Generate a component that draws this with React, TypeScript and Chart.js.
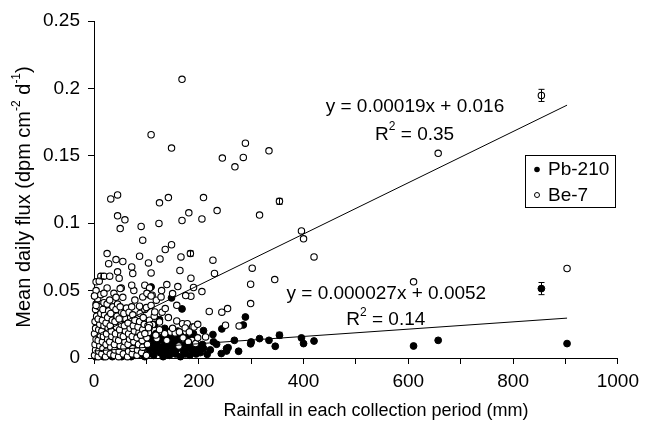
import { useEffect, useRef } from 'react';
import { Chart, registerables } from 'chart.js';
Chart.register(...registerables);

const FONT = "'Liberation Sans', Arial, sans-serif";

// Rainfall (mm), mean daily flux (dpm cm-2 d-1)
const be7Sparse: [number, number][] = [
  [168, 0.2067], [109, 0.1656], [148, 0.1557], [245, 0.1483], [269, 0.1418], [285, 0.1488], [289, 0.1594],
  [334, 0.1537], [354, 0.1162], [316, 0.106], [32, 0.118], [45, 0.121], [45, 0.1055], [59, 0.1025], [50, 0.096],
  [90, 0.0976], [93, 0.0874], [125, 0.1151], [142, 0.119], [124, 0.0998], [168, 0.102], [181, 0.1077], [209, 0.119],
  [206, 0.1032], [235, 0.1094], [396, 0.0943], [400, 0.0884], [420, 0.075], [148, 0.084], [136, 0.0805],
  [126, 0.0735], [166, 0.075], [184, 0.0775], [227, 0.0726], [230, 0.0627], [302, 0.0666], [299, 0.0547],
  [345, 0.0582], [299, 0.0404], [220, 0.0345], [244, 0.034], [255, 0.0367], [277, 0.0238], [251, 0.0243],
  [190, 0.0523], [206, 0.0493], [185, 0.0458], [175, 0.0463], [164, 0.0649], [185, 0.0592], [160, 0.053],
  [139, 0.0545], [129, 0.05], [150, 0.0478], [158, 0.0391], [136, 0.0367], [116, 0.0342], [109, 0.0631],
  [104, 0.0705], [87, 0.0755], [72, 0.0676], [74, 0.0627], [25, 0.0775], [28, 0.07], [42, 0.073], [55, 0.0716],
  [45, 0.0639], [48, 0.0592], [13, 0.0607], [19, 0.0607], [30, 0.0607], [4, 0.0565], [10, 0.057], [52, 0.052],
  [50, 0.0515], [25, 0.052], [1, 0.046], [13, 0.047], [19, 0.048], [38, 0.048], [42, 0.045], [55, 0.045],
  [76, 0.05], [97, 0.054], [106, 0.052], [72, 0.054], [4, 0.039], [101, 0.048], [109, 0.046],
  [854, 0.1948], [657, 0.1518], [610, 0.0565], [903, 0.0664],
];

const be7Mid: [number, number][] = [
  [125, 0.0267], [158, 0.0275], [169, 0.0255], [178, 0.0255], [188, 0.023], [112, 0.0248], [106, 0.0243],
  [104, 0.0225], [146, 0.0193], [155, 0.0186], [163, 0.0193], [174, 0.0223], [182, 0.0193], [191, 0.023],
  [213, 0.0156], [89, 0.0169], [97, 0.0181], [120, 0.0144], [139, 0.0131], [187, 0.0131], [194, 0.0107],
  [162, 0.0089], [100, 0.0374], [87, 0.0384], [109, 0.039], [78, 0.043], [93, 0.0453], [105, 0.047],
  [111, 0.0466], [119, 0.0429], [128, 0.0453], [198, 0.015], [115, 0.031], [130, 0.034], [142, 0.03],
  [150, 0.022], [135, 0.018], [170, 0.015], [180, 0.012], [125, 0.021], [118, 0.017], [198, 0.025],
];

const be7Dense: [number, number][] = [
  [1, 0.002], [3, 0.006], [2, 0.01], [4, 0.014], [1, 0.018], [3, 0.022], [2, 0.027], [5, 0.031], [3, 0.036],
  [4, 0.04], [1, 0.046], [4, 0.05], [8, 0.001], [9, 0.005], [11, 0.009], [8, 0.013], [12, 0.017], [9, 0.021],
  [11, 0.025], [8, 0.029], [13, 0.033], [10, 0.038], [7, 0.044], [15, 0.003], [17, 0.007], [16, 0.012],
  [18, 0.016], [15, 0.02], [19, 0.024], [16, 0.028], [20, 0.032], [17, 0.036], [19, 0.041], [22, 0.001],
  [24, 0.005], [23, 0.01], [26, 0.014], [24, 0.018], [27, 0.022], [23, 0.026], [26, 0.03], [28, 0.035],
  [25, 0.04], [31, 0.003], [32, 0.008], [30, 0.012], [34, 0.016], [33, 0.02], [31, 0.024], [35, 0.028],
  [32, 0.033], [36, 0.038], [30, 0.043], [38, 0.002], [40, 0.006], [39, 0.01], [42, 0.014], [41, 0.018],
  [43, 0.023], [40, 0.027], [44, 0.031], [42, 0.036], [45, 0.04], [47, 0.001], [48, 0.005], [50, 0.009],
  [47, 0.013], [51, 0.017], [49, 0.021], [52, 0.025], [48, 0.029], [53, 0.034], [50, 0.038], [56, 0.003],
  [57, 0.008], [59, 0.012], [56, 0.016], [60, 0.02], [58, 0.024], [61, 0.029], [57, 0.033], [62, 0.037],
  [64, 0.001], [66, 0.005], [65, 0.01], [68, 0.014], [66, 0.018], [69, 0.022], [65, 0.026], [70, 0.03],
  [67, 0.034], [73, 0.003], [74, 0.007], [76, 0.012], [73, 0.016], [77, 0.02], [75, 0.024], [78, 0.028],
  [74, 0.032], [72, 0.038], [82, 0.002], [83, 0.006], [85, 0.01], [82, 0.015], [86, 0.019], [84, 0.023],
  [87, 0.027], [88, 0.033], [91, 0.004], [93, 0.008], [92, 0.013], [95, 0.017], [93, 0.021], [96, 0.025],
  [94, 0.03], [97, 0.036], [100, 0.002], [102, 0.01], [101, 0.015], [104, 0.019], [103, 0.024], [106, 0.028],
];

const pb210Scatter: [number, number][] = [
  [24, 0.039], [109, 0.0527], [148, 0.0446], [168, 0.0364], [125, 0.0285], [289, 0.0304], [285, 0.0245],
  [244, 0.0216], [209, 0.0203], [227, 0.0174], [268, 0.0131], [300, 0.0119], [299, 0.0105], [316, 0.0144],
  [334, 0.0131], [346, 0.0087], [354, 0.0169], [396, 0.0149], [400, 0.0107], [420, 0.0126], [610, 0.0089],
  [657, 0.0131], [903, 0.0107], [854, 0.0515], [276, 0.005], [243, 0.0033], [253, 0.007], [216, 0.0027],
  [209, 0.0072], [256, 0.0077], [253, 0.0052], [234, 0.0102], [138, 0.02], [157, 0.0176], [116, 0.025],
  [110, 0.0139],
];

const pb210Dense: [number, number][] = [
  [3, 0.001], [10, 0.002], [18, 0.001], [26, 0.003], [35, 0.001], [44, 0.002], [53, 0.001], [62, 0.003],
  [71, 0.001], [80, 0.002], [89, 0.003], [97, 0.001], [40, 0.03], [60, 0.02], [70, 0.017], [80, 0.015],
  [90, 0.012], [95, 0.02], [100, 0.008], [104, 0.003], [108, 0.007], [111, 0.011], [114, 0.002], [117, 0.006],
  [120, 0.01], [123, 0.013], [126, 0.004], [129, 0.008], [132, 0.001], [135, 0.011], [138, 0.005],
  [141, 0.009], [144, 0.002], [147, 0.013], [150, 0.006], [153, 0.01], [156, 0.003], [159, 0.007],
  [162, 0.012], [165, 0.001], [168, 0.009], [171, 0.005], [174, 0.003], [177, 0.011], [180, 0.007],
  [183, 0.002], [186, 0.009], [189, 0.005], [192, 0.012], [195, 0.003], [198, 0.008], [112, 0.016],
  [118, 0.018], [128, 0.015], [137, 0.017], [146, 0.016], [155, 0.015], [165, 0.017], [175, 0.015],
  [185, 0.014], [105, 0.022], [135, 0.022], [160, 0.02], [190, 0.018], [203, 0.004], [207, 0.01],
  [222, 0.006], [228, 0.012],
];

// trend lines: [slope, intercept]
const be7Trend = [0.00019, 0.016];
const pb210Trend = [0.000027, 0.0052];
const trendXs = [0, 903];

// error bars: [x, y, halfWidth]
const be7Errors: [number, number, number][] = [[854, 0.1948, 0.0045], [354, 0.1162, 0.0022], [184, 0.0775, 0.002], [13, 0.0607, 0.002]];
const pb210Errors: [number, number, number][] = [[854, 0.0515, 0.0045], [354, 0.0169, 0.0022]];

const xTickLabels = ['0', '200', '400', '600', '800', '1000'];
const yTickLabels = ['0', '0.05', '0.1', '0.15', '0.2', '0.25'];

type Seg = { t: string; sup?: boolean };

function drawRich(ctx: CanvasRenderingContext2D, segs: Seg[], cx: number, cy: number, size: number) {
  const supSize = Math.round(size * 0.62);
  let total = 0;
  const widths = segs.map((s) => {
    ctx.font = `${s.sup ? supSize : size}px ${FONT}`;
    const w = ctx.measureText(s.t).width;
    total += w;
    return w;
  });
  let x = cx - total / 2;
  ctx.textAlign = 'left';
  ctx.textBaseline = 'middle';
  segs.forEach((s, i) => {
    ctx.font = `${s.sup ? supSize : size}px ${FONT}`;
    ctx.fillText(s.t, x, s.sup ? cy - size * 0.38 : cy);
    x += widths[i];
  });
}

const overlay = {
  id: 'overlay',
  afterDatasetsDraw(chart: any) {
    const ctx: CanvasRenderingContext2D = chart.ctx;
    const xs = chart.scales.x;
    const ys = chart.scales.y;
    ctx.save();
    ctx.strokeStyle = '#000';
    ctx.fillStyle = '#000';
    ctx.lineWidth = 1;
    [...be7Errors, ...pb210Errors].forEach(([x, y, e]) => {
      const px = Math.round(xs.getPixelForValue(x)) + 0.5;
      const y1 = ys.getPixelForValue(y - e);
      const y2 = ys.getPixelForValue(y + e);
      ctx.beginPath();
      ctx.moveTo(px, y1);
      ctx.lineTo(px, y2);
      ctx.moveTo(px - 3, y1);
      ctx.lineTo(px + 3, y1);
      ctx.moveTo(px - 3, y2);
      ctx.lineTo(px + 3, y2);
      ctx.stroke();
    });
    ctx.restore();
  },
  afterDraw(chart: any) {
    const ctx: CanvasRenderingContext2D = chart.ctx;
    const xs = chart.scales.x;
    const ys = chart.scales.y;
    ctx.save();
    ctx.fillStyle = '#000';
    ctx.strokeStyle = '#000';
    // trend equations
    drawRich(ctx, [{ t: 'y = 0.00019x + 0.016' }], xs.getPixelForValue(612.7), ys.getPixelForValue(0.1861), 19);
    drawRich(ctx, [{ t: 'R' }, { t: '2', sup: true }, { t: ' = 0.35' }], xs.getPixelForValue(612), ys.getPixelForValue(0.1659), 19);
    drawRich(ctx, [{ t: 'y = 0.000027x + 0.0052' }], xs.getPixelForValue(558), ys.getPixelForValue(0.0478), 19);
    drawRich(ctx, [{ t: 'R' }, { t: '2', sup: true }, { t: ' = 0.14' }], xs.getPixelForValue(557), ys.getPixelForValue(0.028), 19);

    // legend
    const lx = 525.5, ly = 155.5;
    ctx.lineWidth = 1;
    ctx.strokeRect(lx, ly, 90, 52);
    ctx.beginPath();
    ctx.arc(lx + 11.5, ly + 14, 2.8, 0, Math.PI * 2);
    ctx.fill();
    ctx.beginPath();
    ctx.arc(lx + 11.5, ly + 39.5, 2.5, 0, Math.PI * 2);
    ctx.fillStyle = '#fff';
    ctx.fill();
    ctx.stroke();
    ctx.fillStyle = '#000';
    ctx.font = `19px ${FONT}`;
    ctx.textAlign = 'left';
    ctx.textBaseline = 'middle';
    ctx.fillText('Pb-210', lx + 22.5, ly + 14.5);
    ctx.fillText('Be-7', lx + 22.5, ly + 40);

    // axis titles
    drawRich(ctx, [{ t: 'Rainfall in each collection period (mm)' }], 376, 411, 18);
    ctx.translate(24, 197);
    ctx.rotate(-Math.PI / 2);
    drawRich(
      ctx,
      [{ t: 'Mean daily flux (dpm cm' }, { t: '-2', sup: true }, { t: ' d' }, { t: '-1', sup: true }, { t: ')' }],
      0,
      0,
      20
    );
    ctx.restore();
  },
};

export default function App() {
  const ref = useRef<HTMLCanvasElement>(null);
  useEffect(() => {
    if (!ref.current) return;
    const toPts = (a: [number, number][]) => a.map(([x, y]) => ({ x, y }));
    const trend = (c: number[]) => trendXs.map((x) => ({ x, y: c[0] * x + c[1] }));
    const chart = new Chart(ref.current, {
      type: 'scatter',
      data: {
        datasets: [
          { label: 'Be-7 trend', data: trend(be7Trend), showLine: true, borderColor: '#000', borderWidth: 1, pointRadius: 0, order: 0 } as any,
          { label: 'Pb-210 trend', data: trend(pb210Trend), showLine: true, borderColor: '#000', borderWidth: 1, pointRadius: 0, order: 0 } as any,
          {
            label: 'Be-7',
            data: toPts([...be7Dense, ...be7Mid, ...be7Sparse]),
            pointRadius: 3.2,
            backgroundColor: '#fff',
            borderColor: '#000',
            borderWidth: 1.1,
            order: 1,
            clip: 6,
          } as any,
          {
            label: 'Pb-210',
            data: toPts([...pb210Dense, ...pb210Scatter]),
            pointRadius: 3.4,
            backgroundColor: '#000',
            borderColor: '#000',
            borderWidth: 1,
            order: 2,
            clip: 6,
          } as any,
        ],
      },
      options: {
        animation: false,
        responsive: false,
        layout: { padding: { left: 0, right: 23, top: 21, bottom: 0 } },
        plugins: { legend: { display: false }, tooltip: { enabled: false } },
        scales: {
          x: {
            type: 'linear',
            min: 0,
            max: 1000,
            ticks: {
              stepSize: 100,
              autoSkip: false,
              maxRotation: 0,
              color: '#000',
              padding: 6,
              font: { family: FONT, size: 19 },
              callback: (v: any) => (Number(v) % 200 === 0 ? xTickLabels[Number(v) / 200] : ''),
            },
            grid: { drawOnChartArea: false, drawTicks: true, tickLength: 6, color: '#000' },
            border: { color: '#000', width: 1 },
            afterFit: (s: any) => {
              s.height = 65;
            },
          },
          y: {
            type: 'linear',
            min: 0,
            max: 0.25,
            ticks: {
              stepSize: 0.05,
              color: '#000',
              padding: 8,
              font: { family: FONT, size: 19 },
              callback: (v: any) => yTickLabels[Math.round(Number(v) / 0.05)],
            },
            grid: { drawOnChartArea: false, drawTicks: true, tickLength: 6, color: '#000' },
            border: { color: '#000', width: 1 },
            afterFit: (s: any) => {
              s.width = 94;
            },
          },
        },
      },
      plugins: [overlay],
    });
    return () => chart.destroy();
  }, []);
  return (
    <canvas
      ref={ref}
      width={645}
      height={423}
      style={{ position: 'absolute', left: 0, top: 0, width: 645, height: 423, background: '#fff' }}
    />
  );
}
